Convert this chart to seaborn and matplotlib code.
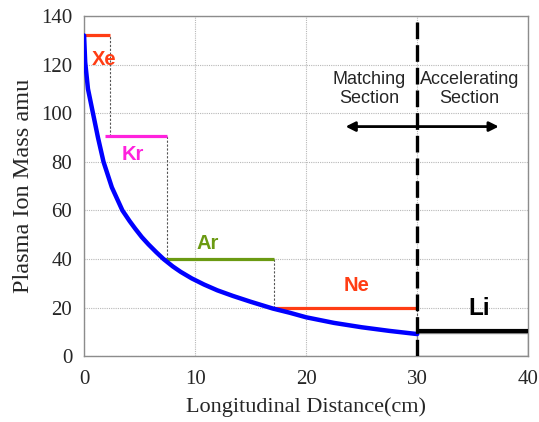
import numpy as np
import pandas as pd
import matplotlib.pyplot as plt
import seaborn as sns
from matplotlib.patches import Rectangle

# courbe de masse ionique
dist_cm = [0, 0.1, 0.35, 0.8, 1.25, 1.75, 2.5, 3.45, 4.1, 4.6, 5.2, 5.8, 6.5, 7.15,
           8, 8.7, 9.7, 10.8, 12, 13.4, 15, 17, 18.5, 20, 22.5, 25, 27.5, 30]
ion_mass = [132, 121, 110, 100, 90, 80, 69.5, 60, 55.6, 52.5, 49, 46, 42.8, 40,
            36.9, 34.7, 32, 29.5, 27.1, 24.8, 22.4, 19.6, 17.9, 16, 13.7, 11.9, 10.4, 9.1]

# paliers des gaz
gas_names = ["Xe", "Kr", "Ar", "Ne", "Li"]
gas_start = [0.1, 1.85, 7.1, 17.1, 30]
gas_end = [2.3, 7.5, 17.1, 30, 40]
gas_mass = [132, 90.8, 40, 20, 10.5]
gas_colors = ["#ff3d14", "#ff22dd", "#6b9a12", "#ff3d14", "#000000"]
label_x = [1.85, 4.4, 11.1, 24.5, 35.6]
label_y = [122, 83, 46.5, 29.2, 19.6]

df = pd.DataFrame({"x": dist_cm, "m": ion_mass})

sns.set_style("whitegrid")
plt.rcParams["font.family"] = ["Liberation Serif", "DejaVu Serif"]

fig = plt.figure(figsize=(5.39, 4.22), dpi=100)
ax = fig.add_axes([0.156, 0.156, 0.824, 0.806])

ax.grid(True, color="#b8b8b8", linestyle=(0, (1, 1)), linewidth=0.8)
for s in ax.spines.values():
    s.set_color("#8c8c8c")
    s.set_linewidth(1.0)

sns.lineplot(data=df, x="x", y="m", color="#0000ff", linewidth=3.2, ax=ax, zorder=4)

# paliers + pointillés de liaison
for i in range(len(gas_names)):
    ax.hlines(gas_mass[i], gas_start[i], gas_end[i], color=gas_colors[i],
              linewidth=3.0 if gas_names[i] == "Li" else 2.3, zorder=3)
    if i < len(gas_names) - 1:
        ax.vlines(gas_end[i], gas_mass[i + 1], gas_mass[i], color="#555555",
                  linewidth=0.8, linestyle=(0, (2, 1.5)), zorder=2)
    ax.text(label_x[i], label_y[i], gas_names[i], color=gas_colors[i],
            fontsize=17.5 if gas_names[i] == "Li" else 14.5, fontweight="bold",
            family="Liberation Sans", ha="center", va="center", zorder=5)

ax.add_patch(Rectangle((30, 0), 10, 9.5, facecolor="white", edgecolor="#8c8c8c",
                       linewidth=1.0, zorder=2.5))

ax.axvline(30, color="black", linewidth=2.4, linestyle=(0, (5, 1.8)), zorder=6)

ax.text(25.7, 110, "Matching\nSection", family="Liberation Sans", fontsize=13,
        ha="center", va="center", linespacing=1.1)
ax.text(34.7, 110, "Accelerating\nSection", family="Liberation Sans", fontsize=13,
        ha="center", va="center", linespacing=1.1)
ax.annotate("", xy=(23.3, 94.5), xytext=(37.6, 94.5),
            arrowprops=dict(arrowstyle="<|-|>", color="black", lw=2, mutation_scale=14))

ax.set_xlim(0, 40)
ax.set_ylim(0, 140)
ax.set_xticks([0, 10, 20, 30, 40])
ax.set_yticks(range(0, 141, 20))
ax.tick_params(labelsize=15, length=0)
ax.tick_params(axis="x", pad=10)
ax.tick_params(axis="y", pad=8.5)
ax.set_xlabel("Longitudinal Distance(cm)", fontsize=16, labelpad=6)
ax.set_ylabel("Plasma Ion Mass amu", fontsize=17.5, labelpad=5)

plt.savefig("out.png", dpi=100)
